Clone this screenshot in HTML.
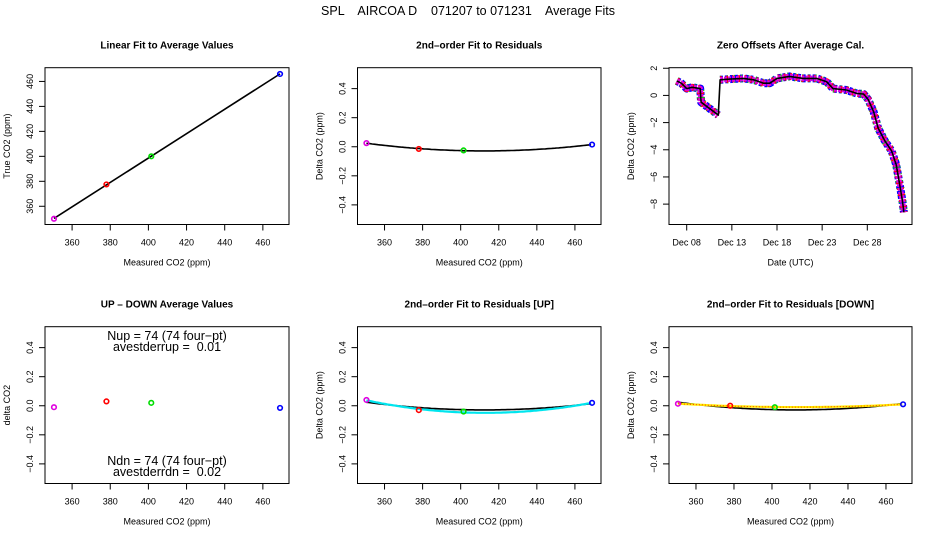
<!DOCTYPE html>
<html><head><meta charset="utf-8"><style>
html,body{margin:0;padding:0;background:#fff}
svg{display:block;font-family:"Liberation Sans",sans-serif}
</style></head><body>
<svg id="c" width="936" height="540" viewBox="0 0 936 540">
<text x="468" y="15" text-anchor="middle" font-size="12.5" style="white-space:pre" xml:space="preserve">SPL    AIRCOA D    071207 to 071231    Average Fits</text>
</svg>
<script>
// ---------- data ----------
const measured = [350.5, 378, 401.5, 469];
const trueVals = [350, 377.5, 400, 466];
const ptColors = ['#e000e0', '#ff0000', '#00dd00', '#0000ff'];
const residAll = [0.025, -0.015, -0.025, 0.015];
const upDown = [-0.01, 0.03, 0.02, -0.015];
const residUp = [0.04, -0.03, -0.04, 0.02];
const residDown = [0.014, 0.0, -0.01, 0.01];
const tsDays = [6.9,7.4,8.0,8.6,9.5,9.6,10.2,11.0,11.5,11.7,12.8,14.3,15.4,16.5,17.2,18.0,19.4,20.9,22.4,23.5,24.2,25.7,26.8,27.6,28.1,28.7,29.2,29.9,30.7,31.2,31.6,31.9,32.05];
const tsVals = [1.07,0.9,0.5,0.6,0.5,-0.5,-0.8,-1.2,-1.45,1.15,1.2,1.25,1.15,0.9,0.9,1.25,1.4,1.25,1.25,1.0,0.5,0.4,0.15,0.1,-0.3,-1.2,-2.4,-3.3,-4.1,-5.1,-6.6,-7.8,-8.6];
const co2Ticks = [360, 380, 400, 420, 440, 460];
const trueTicks = [360, 380, 400, 420, 440, 460];
const residTicks = [-0.4, -0.2, 0.0, 0.2, 0.4];
const residTickLabels = ['\u22120.4', '\u22120.2', '0.0', '0.2', '0.4'];
const dateTicks = [8, 13, 18, 23, 28];
const dateLabels = ['Dec 08', 'Dec 13', 'Dec 18', 'Dec 23', 'Dec 28'];
const offTicks = [2, 0, -2, -4, -6, -8];
const offLabels = ['2', '0', '\u22122', '\u22124', '\u22126', '\u22128'];

const svg = document.getElementById('c');
const NS = 'http://www.w3.org/2000/svg';
function mk(tag, attrs, parent) {
  const e = document.createElementNS(NS, tag);
  for (const k in attrs) e.setAttribute(k, attrs[k]);
  (parent || svg).appendChild(e);
  return e;
}
function fitQuad(xs, ys) {
  let S = [[0,0,0],[0,0,0],[0,0,0]], b = [0,0,0];
  const m = 400;
  xs.forEach((x0, i) => {
    const x = x0 - m, v = [1, x, x * x];
    for (let r = 0; r < 3; r++) { b[r] += v[r] * ys[i]; for (let c = 0; c < 3; c++) S[r][c] += v[r] * v[c]; }
  });
  for (let i = 0; i < 3; i++) {
    for (let j = i + 1; j < 3; j++) {
      const f = S[j][i] / S[i][i];
      for (let k = i; k < 3; k++) S[j][k] -= f * S[i][k];
      b[j] -= f * b[i];
    }
  }
  const c = [0,0,0];
  for (let i = 2; i >= 0; i--) { let s = b[i]; for (let k = i + 1; k < 3; k++) s -= S[i][k] * c[k]; c[i] = s / S[i][i]; }
  return x => { const t = x - m; return c[0] + c[1] * t + c[2] * t * t; };
}

function panel(o) {
  const g = mk('g', {});
  
  
  const X = v => o.x0 + (v - o.xd[0]) / (o.xd[1] - o.xd[0]) * (o.x1 - o.x0);
  const Y = v => o.y1 - (v - o.yd[0]) / (o.yd[1] - o.yd[0]) * (o.y1 - o.y0);
  const t = mk('text', {x: (o.x0 + o.x1) / 2, y: o.y0 - 19, 'text-anchor': 'middle', 'font-size': 10, 'font-weight': 'bold'}, g);
  t.textContent = o.title;
  
  
  const box = mk('rect', {x: o.x0, y: o.y0, width: o.x1 - o.x0, height: o.y1 - o.y0, fill: 'none', stroke: '#000', 'stroke-width': 1}, g);
  
  
  const xa = mk('g', {}, g);
  
  
  mk('line', {x1: X(o.xt[0]), x2: X(o.xt[o.xt.length - 1]), y1: o.y1, y2: o.y1, stroke: '#000'}, xa);
  o.xt.forEach((v, i) => {
    mk('line', {x1: X(v), x2: X(v), y1: o.y1, y2: o.y1 + 6, stroke: '#000'}, xa);
    const l = mk('text', {x: X(v), y: o.y1 + 21, 'text-anchor': 'middle', 'font-size': 9}, xa);
    l.textContent = o.xl ? o.xl[i] : v;
    
    
  });
  const xt = mk('text', {x: (o.x0 + o.x1) / 2, y: o.y1 + 41, 'text-anchor': 'middle', 'font-size': 9}, g);
  xt.textContent = o.xtitle;
  
  
  const ya = mk('g', {}, g);
  
  
  mk('line', {x1: o.x0, x2: o.x0, y1: Y(o.yt[0]), y2: Y(o.yt[o.yt.length - 1]), stroke: '#000'}, ya);
  o.yt.forEach((v, i) => {
    mk('line', {x1: o.x0, x2: o.x0 - 6, y1: Y(v), y2: Y(v), stroke: '#000'}, ya);
    const lx = o.x0 - 12, ly = Y(v);
    const l = mk('text', {x: lx, y: ly, 'text-anchor': 'middle', 'font-size': 9, transform: `rotate(-90 ${lx} ${ly})`}, ya);
    l.textContent = o.yl ? o.yl[i] : v;
    
    
  });
  const tx = o.x0 - 35, ty = (o.y0 + o.y1) / 2;
  const yt = mk('text', {x: tx, y: ty, 'text-anchor': 'middle', 'font-size': 9, transform: `rotate(-90 ${tx} ${ty})`}, g);
  yt.textContent = o.ytitle;
  
  
  return {g, X, Y};
}
function points(p, xs, ys, name) {
  xs.forEach((x, i) => {
    const c = mk('circle', {cx: p.X(x), cy: p.Y(ys[i]), r: 2.3, fill: 'none', stroke: ptColors[i], 'stroke-width': 1.6}, p.g);
    
    
  });
}
function curve(p, f, color, w, dash, name) {
  let d = '';
  for (let x = measured[0]; x <= measured[3] + 0.01; x += 1) d += (d ? 'L' : 'M') + p.X(x).toFixed(1) + ',' + p.Y(f(x)).toFixed(1);
  const a = {d, fill: 'none', stroke: color, 'stroke-width': w};
  if (dash) a['stroke-dasharray'] = dash;
  const e = mk('path', a, p.g);
  
  
}

const co2X = [345.8, 473.7];
const resY = [-0.535, 0.544];
const rows = [[67.7, 224.5], [326.7, 483.5]];
const cols = [[45, 289], [357.5, 601], [669, 912]];

const p1 = panel({name: 'linear-fit-panel', title: 'Linear Fit to Average Values', x0: cols[0][0], x1: cols[0][1], y0: rows[0][0], y1: rows[0][1],
  xd: co2X, yd: [345.4, 471], xt: co2Ticks, yt: trueTicks, xtitle: 'Measured CO2 (ppm)', ytitle: 'True CO2 (ppm)'});
(function(){
  const n = measured.length; let sx=0, sy=0, sxx=0, sxy=0;
  measured.forEach((x,i)=>{sx+=x; sy+=trueVals[i]; sxx+=x*x; sxy+=x*trueVals[i];});
  const b = (n*sxy - sx*sy)/(n*sxx - sx*sx), a = (sy - b*sx)/n;
  const l = mk('line', {x1: p1.X(measured[0]), y1: p1.Y(a + b*measured[0]), x2: p1.X(measured[3]), y2: p1.Y(a + b*measured[3]), stroke: '#000', 'stroke-width': 1.6}, p1.g);
  
  
})();
points(p1, measured, trueVals, 'standard');

const p2 = panel({name: 'residual-fit-panel', title: '2nd\u2013order Fit to Residuals', x0: cols[1][0], x1: cols[1][1], y0: rows[0][0], y1: rows[0][1],
  xd: co2X, yd: resY, xt: co2Ticks, yt: residTicks, yl: residTickLabels, xtitle: 'Measured CO2 (ppm)', ytitle: 'Delta CO2 (ppm)'});
curve(p2, fitQuad(measured, residAll), '#000', 1.6, null, 'quadratic-fit-curve');
points(p2, measured, residAll, 'residual');

const p3 = panel({name: 'zero-offsets-panel', title: 'Zero Offsets After Average Cal.', x0: cols[2][0], x1: cols[2][1], y0: rows[0][0], y1: rows[0][1],
  xd: [6.04, 32.95], yd: [-9.5, 2.04], xt: dateTicks, xl: dateLabels, yt: offTicks.slice().reverse(), yl: offLabels.slice().reverse(), xtitle: 'Date (UTC)', ytitle: 'Delta CO2 (ppm)'});
(function(){
  const segs = [[]];
  tsDays.forEach((x,i)=>{
    if (i > 0 && Math.abs(tsVals[i] - tsVals[i-1]) > 2) segs.push([]);
    segs[segs.length-1].push(p3.X(x).toFixed(1) + ',' + p3.Y(tsVals[i]).toFixed(1));
  });
  let d = '';
  segs.forEach(s => { d += 'M' + s.join('L'); });
  let dall = '';
  tsDays.forEach((x,i)=>{ dall += (i ? 'L' : 'M') + p3.X(x).toFixed(1) + ',' + p3.Y(tsVals[i]).toFixed(1); });
  [['#0000ff',8,'3 2','offset-series-blue'],['#00cc00',8,'1 6','offset-series-green'],['#ff0000',7,'2 4','offset-series-red'],['#e000e0',5.5,'3 1','offset-series-magenta'],['#ff80ff',2,'1 3','offset-series-highlight']].forEach(s=>{
    const a = {d, fill: 'none', stroke: s[0], 'stroke-width': s[1], 'stroke-linejoin': 'round'};
    if (s[2]) a['stroke-dasharray'] = s[2];
    const e = mk('path', a, p3.g);
    
    
  });
  const m = mk('path', {d: dall, fill: 'none', stroke: '#000', 'stroke-width': 1.6, 'stroke-linejoin': 'round'}, p3.g);
  
  
})();

const p4 = panel({name: 'up-down-panel', title: 'UP \u2013 DOWN Average Values', x0: cols[0][0], x1: cols[0][1], y0: rows[1][0], y1: rows[1][1],
  xd: co2X, yd: resY, xt: co2Ticks, yt: residTicks, yl: residTickLabels, xtitle: 'Measured CO2 (ppm)', ytitle: 'delta CO2'});
points(p4, measured, upDown, 'up-down');
[['Nup = 74 (74 four\u2212pt)', 340, 'n-up-text'], ['avestderrup =  0.01', 351, 'avestderr-up-text'], ['Ndn = 74 (74 four\u2212pt)', 465, 'n-down-text'], ['avestderrdn =  0.02', 476, 'avestderr-down-text']].forEach(s=>{
  const t = mk('text', {x: 167, y: s[1], 'text-anchor': 'middle', 'font-size': 12.5, style: 'white-space:pre'}, p4.g);
  t.textContent = s[0];
  
  
});

const p5 = panel({name: 'residual-up-panel', title: '2nd\u2013order Fit to Residuals [UP]', x0: cols[1][0], x1: cols[1][1], y0: rows[1][0], y1: rows[1][1],
  xd: co2X, yd: resY, xt: co2Ticks, yt: residTicks, yl: residTickLabels, xtitle: 'Measured CO2 (ppm)', ytitle: 'Delta CO2 (ppm)'});
curve(p5, fitQuad(measured, residAll), '#000', 1.6, null, 'overall-fit-curve');
curve(p5, fitQuad(measured, residUp), '#00e5ee', 2.2, null, 'up-fit-curve');
points(p5, measured, residUp, 'residual-up');

const p6 = panel({name: 'residual-down-panel', title: '2nd\u2013order Fit to Residuals [DOWN]', x0: cols[2][0], x1: cols[2][1], y0: rows[1][0], y1: rows[1][1],
  xd: co2X, yd: resY, xt: co2Ticks, yt: residTicks, yl: residTickLabels, xtitle: 'Measured CO2 (ppm)', ytitle: 'Delta CO2 (ppm)'});
curve(p6, fitQuad(measured, residAll), '#000', 1.6, null, 'overall-fit-curve');
curve(p6, fitQuad(measured, residDown), '#ffee00', 2.2, null, 'down-fit-curve');
curve(p6, fitQuad(measured, residDown), '#ff3300', 1, '1 2', 'down-fit-curve-dots');
points(p6, measured, residDown, 'residual-down');
</script>
</body></html>
